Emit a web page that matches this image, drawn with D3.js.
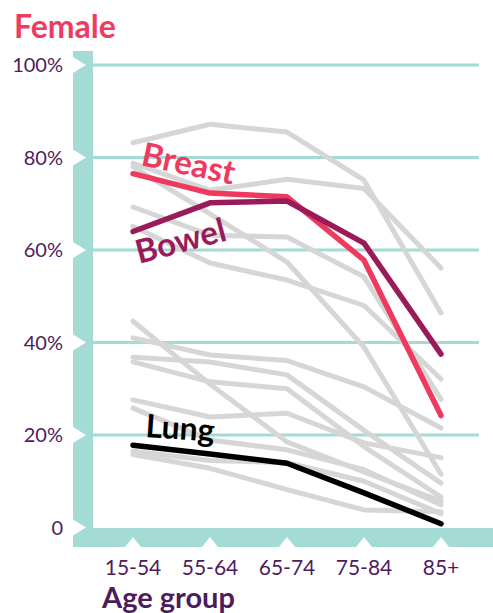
<!DOCTYPE html>
<html><head><meta charset="utf-8">
<script src="https://cdn.jsdelivr.net/npm/d3@7"></script>
<style>body{margin:0;background:#fff}svg{display:block}</style>
</head><body>
<script>
const ageGroups = ["15-54","55-64","65-74","75-84","85+"];
const yTicks = [0,20,40,60,80,100];
const breast = [76.5, 72.3, 71.5, 57.8, 24.2];
const bowel  = [64.0, 70.2, 70.6, 61.5, 37.5];
const lung   = [17.8, 15.9, 13.9, 7.5, 0.8];
const otherCancers = [
  [83.2, 87.2, 85.5, 75.1, 46.4],
  [78.8, 72.9, 75.3, 73.3, 56.1],
  [78.0, 67.8, 57.4, 39.0, 11.5],
  [69.3, 63.2, 62.8, 54.2, 27.7],
  [65.1, 57.2, 53.5, 48.0, 32.1],
  [44.6, 31.0, 18.5, 12.0, 5.7],
  [41.0, 37.3, 36.1, 30.4, 21.5],
  [36.8, 35.8, 33.0, 21.0, 9.6],
  [35.8, 31.5, 30.0, 17.5, 6.6],
  [27.6, 23.9, 24.7, 18.3, 15.1],
  [25.8, 18.9, 16.8, 12.5, 4.9],
  [15.8, 12.8, 8.2, 3.8, 3.4],
  [16.5, 14.5, 14.0, 10.0, 3.0]
];

const W = 493, H = 613;
const teal = "#a4dbd5", purple = "#4e1c5c";
const svg = d3.select("body").append("svg").attr("width", W).attr("height", H)
  .style("font-family", "Lato, 'Open Sans', sans-serif");

const x = d3.scalePoint().domain(ageGroups).range([133, 441]);
const y = d3.scaleLinear().domain([0, 100]).range([527.5, 65]);

// title
svg.append("text").attr("x", 14).attr("y", 38).attr("fill", "#ee3b64")
  .attr("font-weight", 700).attr("font-size", 32).text("Female");

// gridlines
svg.append("g").selectAll("line").data(yTicks.filter(d => d > 0)).join("line")
  .attr("x1", 93).attr("x2", 479).attr("y1", d => y(d)).attr("y2", d => y(d))
  .attr("stroke", teal).attr("stroke-width", 3);

// axis bands
svg.append("rect").attr("x", 73).attr("y", 51).attr("width", 20).attr("height", 496).attr("fill", teal);
svg.append("rect").attr("x", 73).attr("y", 528).attr("width", W - 73).attr("height", 19).attr("fill", teal);

// y notches
svg.append("g").selectAll("path").data(yTicks).join("path")
  .attr("d", d => `M73,${y(d) - 8}L86,${y(d)}L73,${y(d) + 8}Z`).attr("fill", "#fff");
// x notches
svg.append("g").selectAll("path").data(ageGroups).join("path")
  .attr("d", d => `M${x(d) - 8},547L${x(d)},537L${x(d) + 8},547Z`).attr("fill", "#fff");

// y labels
svg.append("g").selectAll("text").data(yTicks).join("text")
  .attr("x", 63).attr("y", d => y(d)).attr("dy", "0.36em").attr("text-anchor", "end")
  .attr("fill", purple).attr("font-size", 20).text(d => d === 0 ? "0" : d + "%");

// x labels
svg.append("g").selectAll("text").data(ageGroups).join("text")
  .attr("x", d => x(d)).attr("y", 575).attr("text-anchor", "middle")
  .attr("fill", purple).attr("font-size", 21).text(d => d);

svg.append("text").attr("x", 102).attr("y", 608).attr("fill", purple)
  .attr("font-weight", 700).attr("font-size", 29).text("Age group");

const line = d3.line().x((d, i) => x(ageGroups[i])).y(d => y(d));

svg.append("g").selectAll("path").data(otherCancers).join("path")
  .attr("d", line).attr("fill", "none").attr("stroke", "#d5d6d5")
  .attr("stroke-width", 5).attr("stroke-linecap", "round").attr("stroke-linejoin", "round");

const main = [
  {v: breast, c: "#ef3a60"},
  {v: bowel, c: "#9a1b5a"},
  {v: lung, c: "#000"}
];
svg.append("g").selectAll("path").data(main).join("path")
  .attr("d", d => line(d.v)).attr("fill", "none").attr("stroke", d => d.c)
  .attr("stroke-width", 5.5).attr("stroke-linecap", "round").attr("stroke-linejoin", "round");

// labels
function lbl(t, px, py, rot, col, fs) {
  svg.append("text").attr("transform", `translate(${px},${py}) rotate(${rot})`)
    .attr("fill", col).attr("font-weight", 700).attr("font-size", fs).text(t);
}
lbl("Breast", 140, 165, 12, "#ef3a60", 33);
lbl("Bowel", 139, 264, -15, "#9a1b5a", 33);
lbl("Lung", 145, 437, 4, "#000", 32);
</script>
</body></html>
